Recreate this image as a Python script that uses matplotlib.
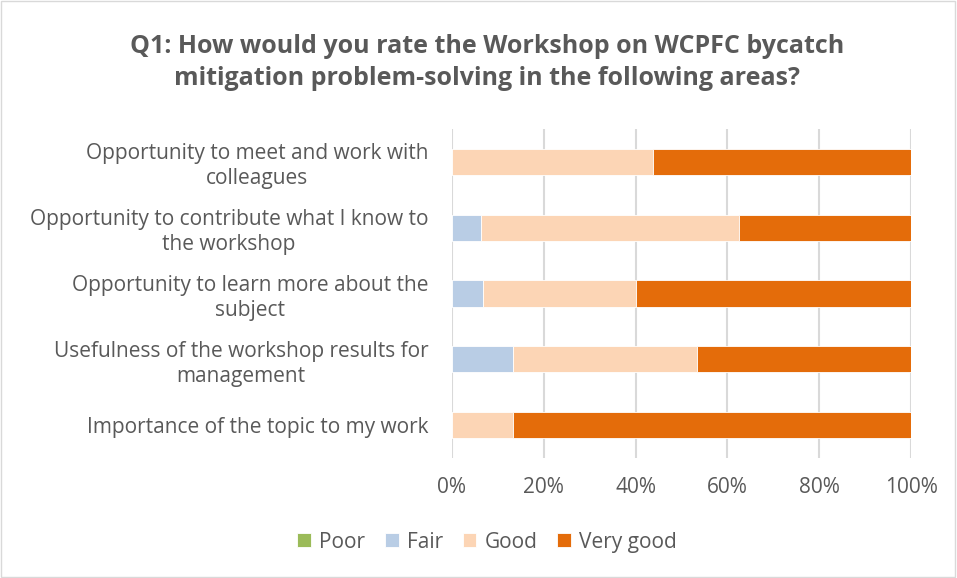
#!/usr/bin/env python3
"""Q1 workshop rating: 100% stacked horizontal bars."""

import matplotlib.pyplot as plt
import numpy as np
from matplotlib.patches import Rectangle
from matplotlib.ticker import PercentFormatter

CATEGORIES = [
    "Opportunity to meet and work with\ncolleagues",
    "Opportunity to contribute what I know to\nthe workshop",
    "Opportunity to learn more about the\nsubject",
    "Usefulness of the workshop results for\nmanagement",
    "Importance of the topic to my work",
]
LEVELS = ["Poor", "Fair", "Good", "Very good"]
POOR = [0.0, 0.0, 0.0, 0.0, 0.0]
FAIR = [0.0, 6.25, 6.67, 13.33, 0.0]
GOOD = [43.75, 56.25, 33.33, 40.0, 13.33]
VERY_GOOD = [56.25, 37.5, 60.0, 46.67, 86.67]
COLORS = ["#9bbb59", "#b9cde5", "#fcd5b5", "#e46c0a"]

TEXT = "#595959"
FONT = ["Open Sans", "DejaVu Sans"]


def main() -> None:
    plt.rcParams["font.family"] = FONT
    fig = plt.figure(figsize=(9.57, 5.78), dpi=100)
    ax = fig.add_axes([0.4723, 0.2076, 0.4797, 0.5692])

    y = np.arange(len(CATEGORIES))
    left = np.zeros(len(CATEGORIES))
    for name, vals, color in zip(LEVELS, [POOR, FAIR, GOOD, VERY_GOOD], COLORS):
        ax.barh(y, vals, left=left, height=0.4, color=color, label=name,
                edgecolor="white", linewidth=0.6, zorder=3)
        left += np.asarray(vals)

    ax.set_xlim(0, 100)
    ax.set_ylim(len(CATEGORIES) - 0.5, -0.5)
    ax.set_xticks(np.arange(0, 101, 20))
    ax.xaxis.set_major_formatter(PercentFormatter(decimals=0))
    ax.set_yticks(y, CATEGORIES)
    for lab in ax.get_yticklabels():
        lab.set_horizontalalignment("right")
        lab.set_multialignment("center")
        lab.set_linespacing(1.25)
    ax.tick_params(axis="y", length=0, pad=17, labelsize=15, labelcolor=TEXT)
    ax.tick_params(axis="x", length=0, pad=14, labelsize=15, labelcolor=TEXT)
    ax.grid(axis="x", color="#d9d9d9", linewidth=1.5, zorder=0)
    for s in ax.spines.values():
        s.set_visible(False)

    fig.text(
        0.509, 0.892,
        "Q1: How would you rate the Workshop on WCPFC bycatch\n"
        "mitigation problem-solving in the following areas?",
        ha="center", va="center", fontsize=18, fontweight="bold", color=TEXT,
        linespacing=1.4,
    )

    fig.legend(loc="center", bbox_to_anchor=(0.509, 0.062), ncol=4,
               frameon=False, fontsize=15, labelcolor=TEXT,
               handlelength=0.65, handleheight=0.65, handletextpad=0.4,
               columnspacing=0.95)

    fig.patches.append(Rectangle((0.001, 0.001), 0.997, 0.997,
                                 transform=fig.transFigure, fill=False,
                                 edgecolor="#d9d9d9", linewidth=1))
    fig.savefig("out.png", dpi=100)


if __name__ == "__main__":
    main()
